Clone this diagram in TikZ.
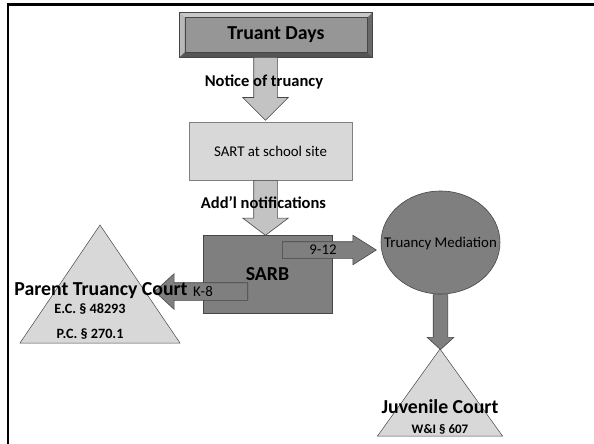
\documentclass[tikz,border=0pt]{standalone}
\usepackage{fontspec}
\setmainfont{Carlito}
\usetikzlibrary{shapes.arrows,shapes.geometric,calc}

\definecolor{truantfill}{RGB}{150,150,150}
\definecolor{bevellight}{RGB}{200,200,200}
\definecolor{bevelleft}{RGB}{185,185,185}
\definecolor{beveldark}{RGB}{105,105,105}
\definecolor{bevelbottom}{RGB}{85,85,85}
\definecolor{lightfill}{RGB}{216,216,216}
\definecolor{arrowfill}{RGB}{195,195,195}
\definecolor{darkfill}{RGB}{127,127,127}
\definecolor{edgecol}{RGB}{70,70,70}

\tikzset{
  boxshape/.style={rectangle, draw=edgecol, line width=0.6pt, inner sep=0pt},
  blockarrow/.style={single arrow, draw=edgecol, line width=0.6pt, inner xsep=0pt,
    text height=0pt, text depth=0pt, single arrow head indent=0pt},
  txt/.style={inner sep=0pt, anchor=base},
  bigfont/.style={font=\fontsize{19.8}{22}\selectfont\bfseries},
  notefont/.style={font=\fontsize{16.5}{18}\selectfont\bfseries},
  plainfont/.style={font=\fontsize{14.85}{16}\selectfont},
  lawfont/.style={font=\fontsize{14.2}{16}\selectfont\bfseries},
}

\begin{document}
\begin{tikzpicture}[x=1pt, y=-1pt]
  \def \bevel {5};
  \useasboundingbox (0,0) rectangle (594,444);

  % Draw the cut frame on top and left.
  \draw[line width=2.5pt, black] (594,4.7) -- (8,4.7) -- (8,444);

  % Draw the bevelled Truant Days box.
  \node[boxshape, fill=truantfill, minimum width=192, minimum height=44, bigfont] (truant) at (276,35) {Truant Days};
  \fill[bevellight] (truant.north west) -- (truant.north east) -- ($(truant.north east)+(-\bevel,\bevel)$) -- ($(truant.north west)+(\bevel,\bevel)$) -- cycle;
  \fill[bevelleft] (truant.north west) -- (truant.south west) -- ($(truant.south west)+(\bevel,-\bevel)$) -- ($(truant.north west)+(\bevel,\bevel)$) -- cycle;
  \fill[beveldark] (truant.north east) -- (truant.south east) -- ($(truant.south east)+(-\bevel,-\bevel)$) -- ($(truant.north east)+(-\bevel,\bevel)$) -- cycle;
  \fill[bevelbottom] (truant.south west) -- (truant.south east) -- ($(truant.south east)+(-\bevel,-\bevel)$) -- ($(truant.south west)+(\bevel,-\bevel)$) -- cycle;
  \draw[edgecol, line width=0.6pt] (truant.north west) rectangle (truant.south east);
  \draw[edgecol, line width=0.4pt] ($(truant.north west)+(\bevel,\bevel)$) rectangle ($(truant.south east)+(-\bevel,-\bevel)$);

  % Draw the other boxes and the mediation circle.
  \node[boxshape, draw=gray, fill=lightfill, minimum width=163, minimum height=58, plainfont] (sart) at (270.5,151) {SART at school site};
  \node[boxshape, fill=darkfill, minimum width=129, minimum height=78, bigfont] (sarb) at (267.5,274) {SARB};
  \node[ellipse, draw=edgecol, line width=0.6pt, fill=darkfill, inner sep=0pt, minimum width=119, minimum height=103] (mediation) at (440.5,242.5) {};

  % Draw the court triangles.
  \coordinate (partop) at (100,225);
  \coordinate (juvtop) at (440,349);
  \draw[edgecol, line width=0.5pt, fill=lightfill] (partop) -- ++(80,118) -- ++(-160,0) -- cycle;
  \draw[edgecol, line width=0.5pt, fill=lightfill] (juvtop) -- ++(62.5,87) -- ++(-125,0) -- cycle;

  % Draw block arrows.
  \node[blockarrow, fill=arrowfill, anchor=tail, rotate=-90, minimum height=63, minimum width=45,
    inner ysep=11.5, single arrow head extend=11, single arrow tip angle=90] (notice) at (265.5,57) {};
  \node[blockarrow, fill=arrowfill, anchor=tail, rotate=-90, minimum height=55, minimum width=45,
    inner ysep=11.5, single arrow head extend=11, single arrow tip angle=106] (addl) at (265.5,180) {};
  \node[blockarrow, fill=darkfill, anchor=tail, minimum height=94, minimum width=29,
    inner ysep=8, single arrow head extend=6.5, single arrow tip angle=64.5] (high) at (282,250) {};
  \node[blockarrow, fill=darkfill, anchor=tail, rotate=180, minimum height=93, minimum width=35,
    inner ysep=8.5, single arrow head extend=9, single arrow tip angle=85] (low) at (248,291.5) {};
  \node[blockarrow, fill=darkfill, anchor=tail, rotate=-90, minimum height=55, minimum width=26,
    inner ysep=7, single arrow head extend=6, single arrow tip angle=95] (tojuv) at (mediation.south) {};

  % Draw the texts.
  \node[txt, plainfont] (medlbl) at (440.5,247) {Truancy Mediation};
  \node[txt, notefont] (noticelbl) at (264,86) {Notice of truancy};
  \node[txt, notefont] (addllbl) at (263.5,208) {Add’l notifications};
  \node[txt, plainfont] (highlbl) at (323,254.5) {9-12};
  \node[txt, plainfont] (lowlbl) at (203,296.5) {K-8};
  \node[txt, bigfont] (parent) at (101,295) {Parent Truancy Court};
  \node[txt, lawfont] (eclaw) at (90,313) {E.C. § 48293};
  \node[txt, lawfont] (pclaw) at (90,338) {P.C. § 270.1};
  \node[txt, bigfont] (juvenile) at (440,413) {Juvenile Court};
  \node[txt, lawfont, font=\fontsize{13}{15}\selectfont\bfseries] (willaw) at (440,433) {W\&I § 607};
\end{tikzpicture}
\end{document}
